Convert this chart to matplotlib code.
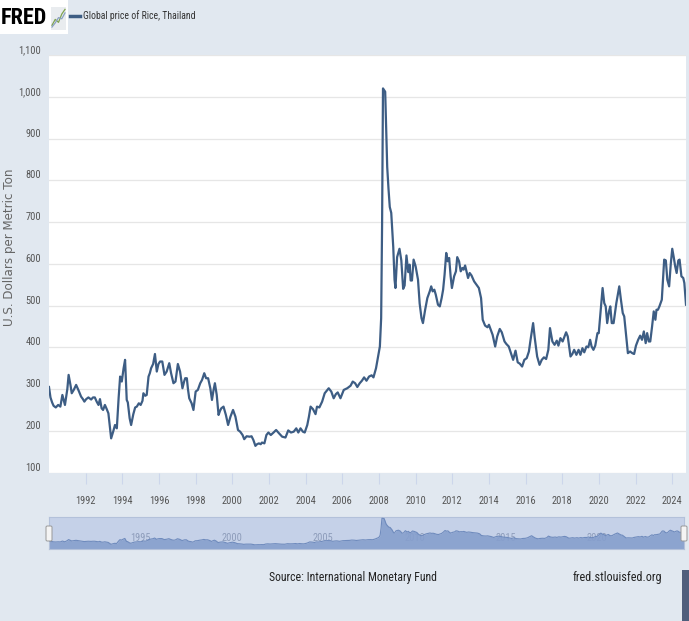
import matplotlib
matplotlib.use("Agg")
import matplotlib.pyplot as plt
from matplotlib import font_manager as fm
from matplotlib.patches import Rectangle, FancyBboxPatch
from matplotlib.lines import Line2D

# ---------------- data ----------------
years = [
    1990.00, 1990.08, 1990.17, 1990.25, 1990.37, 1990.50, 1990.62, 1990.73, 1990.87,
    1991.00, 1991.07, 1991.17, 1991.24, 1991.35, 1991.48, 1991.62, 1991.75, 1991.85, 1991.93,
    1992.03, 1992.15, 1992.30, 1992.40, 1992.50, 1992.60, 1992.70, 1992.78, 1992.87, 1992.95,
    1993.05, 1993.15, 1993.24, 1993.39, 1993.50, 1993.60, 1993.70, 1993.80, 1993.88, 1993.97,
    1994.07, 1994.15, 1994.24, 1994.30, 1994.40, 1994.48, 1994.60, 1994.70, 1994.79, 1994.90,
    1995.00, 1995.10, 1995.15, 1995.25, 1995.33, 1995.43, 1995.50, 1995.57, 1995.68, 1995.78,
    1995.88, 1995.97, 1996.06, 1996.18, 1996.30, 1996.42, 1996.56, 1996.66, 1996.79, 1996.90,
    1997.03, 1997.15, 1997.28, 1997.37, 1997.43, 1997.52, 1997.58, 1997.65, 1997.78, 1997.88,
    1998.00, 1998.12, 1998.25, 1998.35, 1998.47, 1998.57, 1998.68, 1998.80, 1998.89, 1998.97,
    1999.05, 1999.15, 1999.25, 1999.33, 1999.40, 1999.52, 1999.65, 1999.77, 1999.90,
    2000.04, 2000.17, 2000.31, 2000.43, 2000.56, 2000.65, 2000.78, 2000.95,
    2001.05, 2001.15, 2001.26, 2001.35, 2001.45, 2001.55, 2001.62, 2001.75, 2001.86, 2001.97,
    2002.10, 2002.25, 2002.39, 2002.55, 2002.72, 2002.90,
    2003.05, 2003.20, 2003.35, 2003.49, 2003.60, 2003.72, 2003.85, 2003.95,
    2004.09, 2004.18, 2004.27, 2004.40, 2004.54, 2004.62, 2004.75, 2004.90,
    2005.04, 2005.15, 2005.26, 2005.40, 2005.53, 2005.65, 2005.75, 2005.90,
    2006.08, 2006.27, 2006.45, 2006.57, 2006.70, 2006.82, 2006.95,
    2007.07, 2007.19, 2007.32, 2007.46, 2007.60, 2007.70, 2007.84, 2007.98,
    2008.05, 2008.12, 2008.17, 2008.22, 2008.34, 2008.45, 2008.52, 2008.59, 2008.67,
    2008.78, 2008.85, 2008.90, 2008.99,
    2009.12, 2009.22, 2009.32, 2009.40, 2009.50, 2009.60, 2009.67, 2009.73, 2009.80, 2009.89,
    2010.00, 2010.13, 2010.22, 2010.32, 2010.40, 2010.52, 2010.64, 2010.77, 2010.85, 2010.93,
    2011.02, 2011.10, 2011.22, 2011.32, 2011.42, 2011.50, 2011.58, 2011.67, 2011.75, 2011.83,
    2011.91, 2011.98,
    2012.10, 2012.20, 2012.27, 2012.37, 2012.46, 2012.55, 2012.62, 2012.70, 2012.86, 2012.95,
    2013.05, 2013.19, 2013.32, 2013.45, 2013.57, 2013.66, 2013.79, 2013.92,
    2014.00, 2014.10, 2014.20, 2014.34, 2014.45, 2014.59, 2014.70, 2014.85, 2014.95,
    2015.08, 2015.20, 2015.32, 2015.45, 2015.57, 2015.68, 2015.81, 2015.93,
    2016.06, 2016.18, 2016.27, 2016.41, 2016.50, 2016.63, 2016.76, 2016.88,
    2017.00, 2017.12, 2017.24, 2017.33, 2017.46, 2017.58, 2017.70, 2017.79, 2017.90,
    2018.02, 2018.21, 2018.30, 2018.45, 2018.55, 2018.65, 2018.77, 2018.89, 2018.99,
    2019.10, 2019.20, 2019.32, 2019.42, 2019.52, 2019.60, 2019.70, 2019.80, 2019.92, 2019.99,
    2020.20, 2020.29, 2020.37, 2020.45, 2020.55, 2020.62, 2020.70, 2020.80, 2020.95,
    2021.11, 2021.20, 2021.30, 2021.38, 2021.47, 2021.58, 2021.70, 2021.82, 2021.92,
    2022.02, 2022.14, 2022.25, 2022.35, 2022.45, 2022.55, 2022.63, 2022.72, 2022.80, 2022.90,
    2022.99, 2023.08, 2023.14, 2023.22, 2023.30, 2023.43, 2023.56, 2023.65, 2023.73, 2023.83,
    2023.92, 2024.00, 2024.08, 2024.16, 2024.24, 2024.33, 2024.40, 2024.50, 2024.60, 2024.66,
    2024.75,
]
prices = [
    305, 280, 268, 260, 256, 262, 258, 286, 262,
    300, 334, 310, 290, 298, 310, 296, 282, 276, 270,
    276, 280, 275, 280, 280, 270, 262, 276, 254, 250,
    262, 252, 242, 182, 198, 214, 206, 280, 330, 318,
    350, 370, 274, 268, 230, 214, 240, 256, 258, 266,
    262, 272, 290, 284, 286, 330, 338, 350, 360, 384,
    342, 360, 366, 366, 334, 342, 362, 338, 314, 318,
    360, 342, 302, 318, 326, 326, 300, 278, 266, 250,
    294, 298, 314, 322, 338, 326, 326, 302, 274, 296,
    314, 286, 238, 248, 254, 258, 238, 214, 234,
    250, 234, 202, 198, 190, 180, 187, 186,
    187, 178, 164, 168, 170, 168, 172, 170, 190, 196,
    190, 196, 202, 194, 186, 184,
    201, 196, 198, 206, 196, 206, 198, 196,
    214, 234, 258, 252, 240, 258, 256, 270,
    290, 296, 302, 294, 278, 288, 292, 278,
    298, 302, 308, 318, 314, 305, 314,
    320, 328, 320, 330, 333, 328, 350, 384,
    402, 470, 690, 1020, 1012, 832, 780, 736, 722,
    640, 562, 542, 616,
    636, 608, 540, 548, 620, 580, 598, 560, 560, 610,
    594, 562, 505, 470, 458, 490, 518, 534, 546, 534,
    538, 526, 502, 498, 518, 538, 574, 626, 606, 614,
    570, 542,
    570, 582, 616, 606, 582, 590, 586, 596, 566, 578,
    572, 558, 550, 542, 518, 466, 452, 448,
    454, 442, 430, 402, 426, 444, 436, 414, 408,
    402, 386, 370, 392, 364, 361, 354, 370,
    374, 390, 418, 458, 422, 378, 358, 370,
    376, 372, 394, 446, 414, 406, 416, 404, 422,
    414, 436, 426, 378, 384, 394, 382, 394, 382,
    398, 388, 402, 400, 418, 402, 394, 404, 434, 434,
    542, 506, 498, 458, 486, 498, 458, 458, 506,
    546, 514, 482, 474, 434, 386, 390, 386, 384,
    404, 418, 428, 418, 438, 410, 434, 414, 414, 450,
    486, 466, 490, 490, 498, 514, 610, 608, 562, 546,
    600, 636, 616, 594, 578, 608, 610, 570, 566, 554,
    502,
]
x_ticks = list(range(1992, 2025, 2))
y_ticks = list(range(100, 1101, 100))
nav_ticks = [1995, 2000, 2005, 2010, 2015, 2020]
title = "Global price of Rice, Thailand"
y_label = "U.S. Dollars per Metric Ton"
source = "Source: International Monetary Fund"
site = "fred.stlouisfed.org"

# ---------------- fonts ----------------
def _find_narrow(bold=False):
    cands = []
    for f in fm.fontManager.ttflist:
        st = str(f.stretch).lower()
        name = f.name.lower()
        narrow = (st in ("condensed", "semi-condensed", "extra-condensed", "ultra-condensed")
                  or "narrow" in name or "condensed" in name
                  or (isinstance(f.stretch, int) and f.stretch < 500))
        if not narrow:
            continue
        w = f.weight if isinstance(f.weight, int) else (700 if "bold" in str(f.weight) else 400)
        if f.style != "normal":
            continue
        if bold and w < 600:
            continue
        if not bold and w >= 600:
            continue
        cands.append(f)
    if not cands:
        return None
    pref = ["liberation sans narrow", "roboto condensed", "dejavu sans", "noto sans"]
    cands.sort(key=lambda f: next((i for i, p in enumerate(pref) if p in f.name.lower()), 99))
    return cands[0].fname

_nreg = _find_narrow(False)
_nbold = _find_narrow(True)

def nfont(size, bold=False):
    path = _nbold if bold else _nreg
    if path:
        return fm.FontProperties(fname=path, size=size)
    return fm.FontProperties(family=["Liberation Sans", "DejaVu Sans"], size=size,
                             weight="bold" if bold else "normal")

# ---------------- style ----------------
W, H = 689, 621
BG = "#e1e8f0"
LINE = "#3d5d84"

def rect(x0, y0, x1, y1):
    return [x0 / W, 1 - y1 / H, (x1 - x0) / W, (y1 - y0) / H]

fig = plt.figure(figsize=(W / 100, H / 100), dpi=100, facecolor=BG)

# header
fig.patches.append(Rectangle((0, 1 - 34 / H), 68 / W, 34 / H, transform=fig.transFigure,
                             facecolor="white", edgecolor="none", zorder=0))
fig.text(1 / W, 1 - 18 / H, "FRED", fontproperties=nfont(16, bold=True),
         color="black", va="center", ha="left", zorder=4)
ax_icon = fig.add_axes(rect(51, 7, 66, 30), zorder=4)
ax_icon.set_facecolor("#e9ecef")
ax_icon.plot([0, 1, 2, 3, 4], [0.5, 1.5, 1.0, 2.4, 3.2], color="#7fa34f", lw=0.9)
ax_icon.plot([0, 1, 2, 3, 4], [0.2, 0.9, 1.8, 1.6, 2.6], color="#8aa1c2", lw=0.9)
ax_icon.set_xlim(-0.3, 4.3); ax_icon.set_ylim(-0.3, 3.6)
ax_icon.set_xticks([]); ax_icon.set_yticks([])
for s in ax_icon.spines.values():
    s.set_visible(False)
fig.lines.append(Line2D([70 / W, 80 / W], [1 - 16 / H, 1 - 16 / H], transform=fig.transFigure,
                        color=LINE, lw=2.5))
fig.text(83 / W, 1 - 16 / H, title, fontproperties=nfont(7), color="#333333",
         va="center", ha="left")

# main axes
ax = fig.add_axes(rect(49, 55, 686, 472.6))
ax.set_facecolor("white")
ax.plot(years, prices, color=LINE, lw=1.6, solid_joinstyle="round", zorder=3)
ax.set_xlim(years[0], years[-1])
ax.set_ylim(100, 1100)
ax.set_yticks(y_ticks)
ax.set_yticklabels([f"{v:,}" for v in y_ticks], fontproperties=nfont(7.5), color="#555555")
for lbl in ax.get_yticklabels():
    lbl.set_va("bottom")
ax.set_xticks(x_ticks)
ax.set_xticklabels([str(v) for v in x_ticks], fontproperties=nfont(7.5), color="#555555")
ax.tick_params(axis="y", length=0, pad=5.8)
ax.tick_params(axis="x", length=8, width=0.8, color="#ccd6eb", direction="out", pad=9)
ax.grid(axis="y", color="#e6e6e6", lw=0.9)
ax.set_axisbelow(True)
for s in ax.spines.values():
    s.set_visible(False)
fig.text(10 / W, 1 - 247 / H, y_label, rotation=90, fontsize=8.6, color="#666666",
         va="center", ha="center")

# navigator
nav = fig.add_axes(rect(49, 517, 684, 549))
nav.set_facecolor("#c5d1e8")
for yr in nav_ticks:
    nav.text(yr, 0.33, str(yr), transform=nav.get_xaxis_transform(),
             fontproperties=nfont(7.5), color="#8d9cba", ha="center", va="center", zorder=1)
nav.fill_between(years, prices, 30, color="#869fcd", lw=0, alpha=0.9, zorder=2)
nav.plot(years, prices, color="#6f8bbd", lw=0.8, zorder=3)
nav.set_xlim(years[0], years[-1])
nav.set_ylim(30, 1061)
nav.set_xticks([]); nav.set_yticks([])
for s in nav.spines.values():
    s.set_color("#b3c1da"); s.set_linewidth(0.8)
for hx in (49, 684):
    fig.patches.append(FancyBboxPatch(((hx - 3) / W, 1 - 541 / H), 6 / W, 15 / H,
                                      boxstyle="round,pad=0,rounding_size=0.002",
                                      transform=fig.transFigure, facecolor="#f4f4f4",
                                      edgecolor="#999999", lw=0.7, zorder=5))

# footer
fig.text(353 / W, 1 - 578 / H, source, fontproperties=nfont(8.5), color="#222222",
         ha="center", va="center")
fig.text(617 / W, 1 - 578 / H, site, fontproperties=nfont(8.7), color="#222222",
         ha="center", va="center")
fig.patches.append(Rectangle((682 / W, 0), 7 / W, 51 / H, transform=fig.transFigure,
                             facecolor="#4f5e7c", edgecolor="none"))

fig.savefig("out.png", dpi=100, facecolor=BG)
